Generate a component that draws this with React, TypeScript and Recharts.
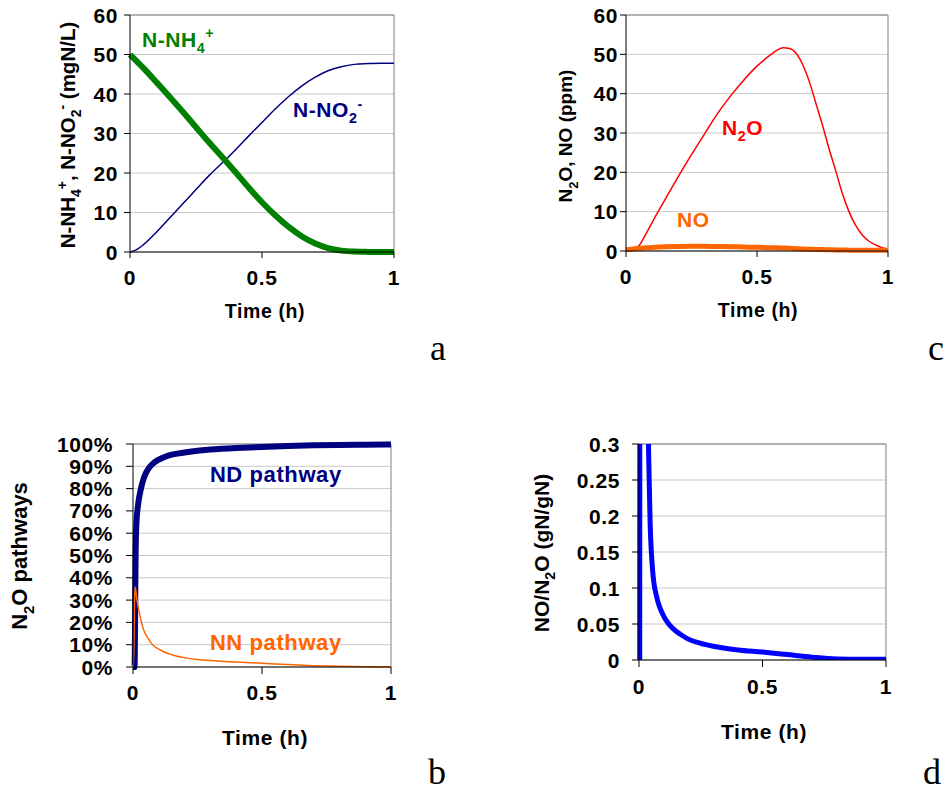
import React from 'react';
import {
  LineChart,
  Line,
  XAxis,
  YAxis,
  CartesianGrid,
  ReferenceLine,
  ReferenceDot,
  Label,
} from 'recharts';

// panel a - nitrogen species
const timeA = [0, 0.025, 0.05, 0.1, 0.15, 0.2, 0.25, 0.3, 0.35, 0.4, 0.45, 0.5, 0.55, 0.6, 0.65, 0.7, 0.75, 0.8, 0.85, 0.9, 0.95, 1];
const nh4 = [50, 48.3, 46.6, 43, 39.3, 35.5, 31.6, 27.7, 24, 20.2, 16.3, 12.6, 9.3, 6.4, 4, 2.2, 1, 0.35, 0.1, 0.03, 0.01, 0];
const no2 = [0, 0.6, 1.8, 5, 8.6, 12.2, 15.8, 19.4, 22.6, 25.9, 29.4, 32.8, 36.2, 39.3, 42, 44.2, 45.9, 46.9, 47.5, 47.7, 47.8, 47.8];

// panel c - gas phase N2O / NO
const timeC = [0, 0.025, 0.05, 0.075, 0.1, 0.15, 0.2, 0.25, 0.3, 0.35, 0.4, 0.45, 0.5, 0.55, 0.575, 0.6, 0.625, 0.65, 0.675, 0.7, 0.725, 0.75, 0.775, 0.8, 0.825, 0.85, 0.875, 0.9, 0.925, 0.95, 0.975, 1];
const n2o = [0, 0.2, 1.4, 4.2, 7.3, 13.2, 19, 24.5, 29.8, 35, 39.5, 43.5, 47, 49.8, 51, 51.7, 51.5, 50.2, 47.3, 43, 37.5, 32, 26, 20.5, 14.8, 10.2, 6.7, 4.2, 2.6, 1.6, 0.9, 0.4];
const no = [0.3, 0.5, 0.7, 0.8, 0.9, 1.05, 1.15, 1.2, 1.2, 1.15, 1.1, 1.0, 0.95, 0.85, 0.8, 0.75, 0.7, 0.6, 0.5, 0.45, 0.4, 0.35, 0.3, 0.28, 0.25, 0.22, 0.2, 0.2, 0.2, 0.2, 0.2, 0.2];

// panel b - pathway contributions (%)
const timeB = [0, 0.002, 0.006, 0.008, 0.01, 0.013, 0.02, 0.03, 0.04, 0.05, 0.06, 0.08, 0.1, 0.125, 0.15, 0.2, 0.25, 0.3, 0.4, 0.5, 0.6, 0.7, 0.8, 0.9, 1];
const ndPath = [0, 0, 0, 20, 50, 64, 73, 79.5, 84, 87, 89, 91.5, 93, 94.3, 95.2, 96.2, 97, 97.5, 98.2, 98.7, 99.1, 99.4, 99.6, 99.7, 99.8];
const nnPath = [0, 0, 30, 36, 35, 32, 27, 21.5, 17, 14.5, 12.5, 9.5, 8, 6.5, 5.5, 4.2, 3.4, 2.9, 2.2, 1.7, 1.1, 0.6, 0.3, 0.1, 0.05];

// panel d - NO/N2O ratio
const timeD = [0, 0.003, 0.005, 0.02, 0.03, 0.035, 0.04, 0.045, 0.05, 0.055, 0.06, 0.07, 0.08, 0.09, 0.1, 0.11, 0.125, 0.15, 0.175, 0.2, 0.25, 0.3, 0.4, 0.5, 0.6, 0.7, 0.8, 0.9, 1];
const ratio = [0, 0, 3, 1.5, 0.6, 0.38, 0.27, 0.19, 0.15, 0.125, 0.108, 0.09, 0.077, 0.068, 0.061, 0.055, 0.048, 0.04, 0.034, 0.029, 0.023, 0.019, 0.014, 0.011, 0.0075, 0.004, 0.0015, 0.001, 0.001];

const xTicks = [0, 0.5, 1];
const ticksA = [0, 10, 20, 30, 40, 50, 60];
const ticksB = [0, 10, 20, 30, 40, 50, 60, 70, 80, 90, 100];
const ticksD = [0, 0.05, 0.1, 0.15, 0.2, 0.25, 0.3];

const dataA = timeA.map((t, i) => ({ t, nh4: nh4[i], no2: no2[i] }));
const dataC = timeC.map((t, i) => ({ t, n2o: n2o[i], no: no[i] }));
const dataB = timeB.map((t, i) => ({ t, nd: ndPath[i], nn: nnPath[i] }));
const dataD = timeD.map((t, i) => ({ t, ratio: ratio[i] }));

const FONT = '"Liberation Sans", Arial, sans-serif';

type Part = [string, ('sub' | 'sup')?];

// bold text with sub/superscripts
const Rich = ({ x, y, parts, size, fill = '#000', rotate = false, anchor = 'middle', spacing = 0 }: any) => {
  let cur = 0;
  const spans = (parts as Part[]).map(([txt, kind], i) => {
    const target = kind === 'sub' ? size * 0.3 : kind === 'sup' ? -size * 0.4 : 0;
    const dy = target - cur;
    cur = target;
    return (
      <tspan key={i} dy={dy} fontSize={kind ? size * 0.68 : size}>
        {txt}
      </tspan>
    );
  });
  return (
    <text
      x={x}
      y={y}
      fill={fill}
      fontSize={size}
      fontWeight="bold"
      fontFamily={FONT}
      textAnchor={anchor}
      letterSpacing={spacing}
      transform={rotate ? `rotate(-90 ${x} ${y})` : undefined}
    >
      {spans}
    </text>
  );
};

// tick labels drawn by hand so the font size sticks
const makeTick = (fmt?: (v: number) => string) => (p: any) => {
  const v = p.payload.value;
  const isY = p.textAnchor === 'end';
  return (
    <text
      x={p.x}
      y={p.y}
      dy={isY ? '0.36em' : '0.72em'}
      textAnchor={p.textAnchor}
      fill="#000"
      fontSize={21}
      fontWeight="bold"
      fontFamily={FONT}
      letterSpacing={0.6}
    >
      {fmt ? fmt(v) : String(v)}
    </text>
  );
};

const Note = (at: [number, number], parts: Part[], color: string, size = 21) => (
  <ReferenceDot
    x={at[0]}
    y={at[1]}
    r={0}
    fill="none"
    stroke="none"
    label={(p: any) => (
      <Rich x={p.viewBox.x} y={p.viewBox.y} parts={parts} size={size} fill={color} anchor="start" spacing={0.6} />
    )}
  />
);

const Panel = ({ pos, size, margin, yWidth, data, yDomain, yTicks, yFmt, tickSize, yTickMargin, xTickMargin, xTitle, yTitle, clip, children }: any) => (
  <div style={{ position: 'absolute', left: pos[0], top: pos[1] }}>
    <LineChart width={size[0]} height={size[1]} data={data} margin={margin}>
      <CartesianGrid vertical={false} stroke="#c8c8c8" />
      <XAxis
        type="number"
        dataKey="t"
        domain={[0, 1]}
        ticks={xTicks}
        interval={0}
        tick={makeTick()}
        tickSize={tickSize}
        tickMargin={xTickMargin}
        axisLine={{ stroke: '#000' }}
        tickLine={{ stroke: '#000' }}
        height={60}
      >
        <Label content={() => <Rich x={xTitle[0]} y={xTitle[1]} parts={[['Time (h)']]} size={xTitle[2]} spacing={0.6} />} />
      </XAxis>
      <YAxis
        type="number"
        domain={yDomain}
        ticks={yTicks}
        interval={0}
        allowDataOverflow={clip}
        tick={makeTick(yFmt)}
        tickSize={tickSize}
        tickMargin={yTickMargin}
        axisLine={{ stroke: '#000' }}
        tickLine={{ stroke: '#000' }}
        width={yWidth}
      >
        <Label content={() => <Rich x={yTitle[0]} y={yTitle[1]} parts={yTitle[3]} size={yTitle[2]} rotate />} />
      </YAxis>
      <ReferenceLine y={yDomain[1]} stroke="#808080" />
      <ReferenceLine x={1} stroke="#808080" />
      {children}
    </LineChart>
  </div>
);

const Letter = ({ x, y, c }: any) => (
  <text x={x} y={y} fontSize={36} fontFamily='"Liberation Serif", "Times New Roman", serif' textAnchor="middle">
    {c}
  </text>
);

export default function App() {
  return (
    <div style={{ position: 'absolute', left: 0, top: 0, width: 944, height: 794, background: '#fff' }}>
      {/* a */}
      <Panel
        pos={[0, 0]}
        size={[410, 330]}
        margin={{ top: 15, right: 16, left: 0, bottom: 18 }}
        yWidth={130}
        data={dataA}
        yDomain={[0, 60]}
        yTicks={ticksA}
        tickSize={6}
        yTickMargin={6}
        xTickMargin={12}
        xTitle={[265, 318, 19.5]}
        yTitle={[75, 135, 20.5, [['N-NH'], ['4', 'sub'], ['+', 'sup'], [', N-NO'], ['2', 'sub'], ['-', 'sup'], [' (mgN/L)']]]}
      >
        <Line type="monotone" dataKey="no2" stroke="#000080" strokeWidth={1.5} dot={false} isAnimationActive={false} />
        <Line type="monotone" dataKey="nh4" stroke="#008000" strokeWidth={6} dot={false} isAnimationActive={false} />
        {Note([0.045, 52], [['N-NH'], ['4', 'sub'], ['+', 'sup']], '#008000')}
        {Note([0.617, 34.2], [['N-NO'], ['2', 'sub'], ['-', 'sup']], '#000080')}
      </Panel>

      {/* c */}
      <Panel
        pos={[500, 0]}
        size={[410, 330]}
        margin={{ top: 15, right: 22, left: 0, bottom: 19 }}
        yWidth={126}
        data={dataC}
        yDomain={[0, 60]}
        yTicks={ticksA}
        tickSize={6}
        yTickMargin={2}
        xTickMargin={12}
        xTitle={[258, 317, 19.5]}
        yTitle={[72, 136, 19, [['N'], ['2', 'sub'], ['O, NO (ppm)']]]}
      >
        <Line type="monotone" dataKey="n2o" stroke="#ff0000" strokeWidth={1.5} dot={false} isAnimationActive={false} />
        <Line type="monotone" dataKey="no" stroke="#ff6600" strokeWidth={5} dot={false} isAnimationActive={false} />
        {Note([0.366, 29.5], [['N'], ['2', 'sub'], ['O']], '#ff0000')}
        {Note([0.195, 6.1], [['NO']], '#ff6600')}
      </Panel>

      {/* b */}
      <Panel
        pos={[0, 420]}
        size={[410, 340]}
        margin={{ top: 24, right: 19, left: 0, bottom: 33 }}
        yWidth={133}
        data={dataB}
        yDomain={[0, 100]}
        yTicks={ticksB}
        yFmt={(v: number) => `${v}%`}
        tickSize={7}
        yTickMargin={13}
        xTickMargin={11}
        xTitle={[265, 325, 21]}
        yTitle={[27, 136, 22, [['N'], ['2', 'sub'], ['O pathways']]]}
      >
        <Line type="monotone" dataKey="nd" stroke="#000080" strokeWidth={6} dot={false} isAnimationActive={false} />
        <Line type="monotone" dataKey="nn" stroke="#ff6600" strokeWidth={1.5} dot={false} isAnimationActive={false} />
        {Note([0.298, 83], [['ND pathway']], '#000080', 22)}
        {Note([0.298, 7.6], [['NN pathway']], '#ff6600', 22)}
      </Panel>

      {/* d */}
      <Panel
        pos={[500, 420]}
        size={[410, 340]}
        margin={{ top: 24, right: 24, left: 0, bottom: 40 }}
        yWidth={139}
        data={dataD}
        yDomain={[0, 0.3]}
        yTicks={ticksD}
        clip
        tickSize={7}
        yTickMargin={12}
        xTickMargin={12}
        xTitle={[264, 319, 21]}
        yTitle={[49, 133, 21, [['NO/N'], ['2', 'sub'], ['O (gN/gN)']]]}
      >
        <Line type="monotone" dataKey="ratio" stroke="#0000ff" strokeWidth={5} dot={false} isAnimationActive={false} />
      </Panel>

      <svg width={944} height={794} style={{ position: 'absolute', left: 0, top: 0, pointerEvents: 'none' }}>
        <Letter x={438} y={360} c="a" />
        <Letter x={936} y={360} c="c" />
        <Letter x={437} y={784} c="b" />
        <Letter x={932} y={784} c="d" />
      </svg>
    </div>
  );
}
